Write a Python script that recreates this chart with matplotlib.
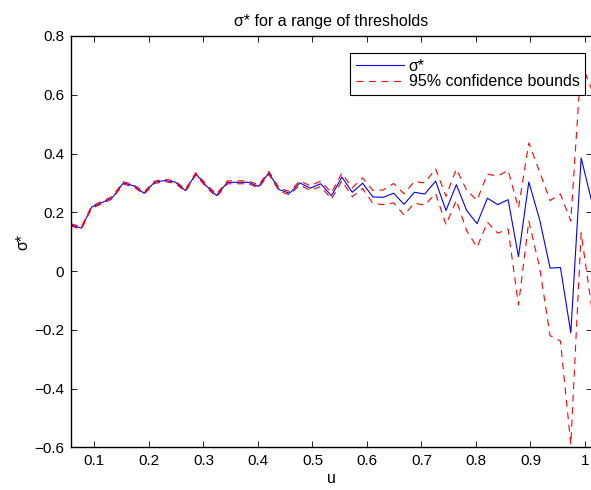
import numpy as np
import matplotlib
matplotlib.use("Agg")
import matplotlib.pyplot as plt

plt.rcParams['font.family'] = ['Liberation Sans', 'DejaVu Sans']
plt.rcParams['lines.scale_dashes'] = False

# thresholds u
u = [0.057, 0.076, 0.095, 0.114, 0.133, 0.153, 0.172, 0.191, 0.210, 0.229,
     0.248, 0.267, 0.286, 0.305, 0.324, 0.344, 0.363, 0.382, 0.401, 0.420,
     0.439, 0.458, 0.477, 0.496, 0.515, 0.535, 0.554, 0.573, 0.592, 0.611,
     0.630, 0.649, 0.668, 0.687, 0.706, 0.726, 0.745, 0.764, 0.783, 0.802,
     0.821, 0.840, 0.859, 0.878, 0.897, 0.917, 0.936, 0.955, 0.974, 0.993,
     1.012]

# sigma* estimate
sigma = [0.157, 0.146, 0.218, 0.233, 0.250, 0.300, 0.290, 0.265, 0.302, 0.308,
         0.303, 0.274, 0.331, 0.290, 0.257, 0.302, 0.302, 0.302, 0.288, 0.334,
         0.277, 0.265, 0.300, 0.282, 0.297, 0.256, 0.320, 0.268, 0.299, 0.252,
         0.251, 0.265, 0.227, 0.268, 0.262, 0.306, 0.206, 0.294, 0.206, 0.161,
         0.248, 0.226, 0.243, 0.049, 0.303, 0.174, 0.010, 0.012, -0.210, 0.385,
         0.240]

# 95% confidence bounds
upper = [0.161, 0.150, 0.222, 0.237, 0.254, 0.304, 0.294, 0.269, 0.306, 0.312,
         0.307, 0.278, 0.335, 0.295, 0.262, 0.307, 0.307, 0.307, 0.293, 0.339,
         0.282, 0.271, 0.307, 0.290, 0.306, 0.267, 0.333, 0.283, 0.317, 0.274,
         0.276, 0.298, 0.263, 0.305, 0.300, 0.348, 0.254, 0.347, 0.275, 0.241,
         0.330, 0.323, 0.343, 0.214, 0.436, 0.337, 0.240, 0.262, 0.170, 0.710,
         0.620]
lower = [0.153, 0.142, 0.214, 0.229, 0.246, 0.296, 0.286, 0.261, 0.298, 0.304,
         0.299, 0.270, 0.327, 0.285, 0.252, 0.297, 0.297, 0.297, 0.283, 0.329,
         0.272, 0.259, 0.293, 0.274, 0.288, 0.245, 0.307, 0.253, 0.281, 0.230,
         0.226, 0.232, 0.191, 0.231, 0.224, 0.264, 0.158, 0.241, 0.137, 0.081,
         0.166, 0.129, 0.143, -0.116, 0.170, 0.011, -0.220, -0.238, -0.590, 0.130,
         -0.120]

xticks = [0.1, 0.2, 0.3, 0.4, 0.5, 0.6, 0.7, 0.8, 0.9, 1.0]
xticklabels = ['0.1', '0.2', '0.3', '0.4', '0.5', '0.6', '0.7', '0.8', '0.9', '1']
yticks = [-0.6, -0.4, -0.2, 0, 0.2, 0.4, 0.6, 0.8]
yticklabels = ['\u22120.6', '\u22120.4', '\u22120.2', '0', '0.2', '0.4', '0.6', '0.8']

fig = plt.figure(figsize=(5.91, 4.90), dpi=100)
ax = fig.add_axes([71 / 591, 42.7 / 490, 520.5 / 591, 411.3 / 490])

dash = (0, (5.0, 4.0))
ax.plot(u, sigma, color='blue', lw=0.8, label='σ*')
ax.plot(u, upper, color='red', lw=0.8, linestyle=dash, label='95% confidence bounds')
ax.plot(u, lower, color='red', lw=0.8, linestyle=dash)

ax.set_xlim(u[0], u[-1])
ax.set_ylim(-0.6, 0.8)
ax.set_xticks(xticks)
ax.set_xticklabels(xticklabels)
ax.set_yticks(yticks)
ax.set_yticklabels(yticklabels)

ax.tick_params(direction='in', length=4, width=0.6, top=True, right=True,
               labelsize=11, pad=5, colors='black')
for s in ['left', 'bottom', 'top']:
    ax.spines[s].set_linewidth(1.0)
ax.spines['right'].set_visible(False)

ax.set_title('σ* for a range of thresholds', fontsize=11.5, pad=7)
ax.set_xlabel('u', fontsize=11.5, labelpad=2)
ax.set_ylabel('σ*', fontsize=11.5, labelpad=3)

leg = ax.legend(loc='upper right', bbox_to_anchor=(585 / 591, (490 - 53) / 490),
                bbox_transform=fig.transFigure, fontsize=11.5, handlelength=3.0,
                handletextpad=0.3, labelspacing=0.05, borderpad=0.35,
                fancybox=False, framealpha=1, borderaxespad=0)
leg.get_frame().set_edgecolor('black')
leg.get_frame().set_linewidth(0.8)

fig.savefig('out.png', dpi=100)
